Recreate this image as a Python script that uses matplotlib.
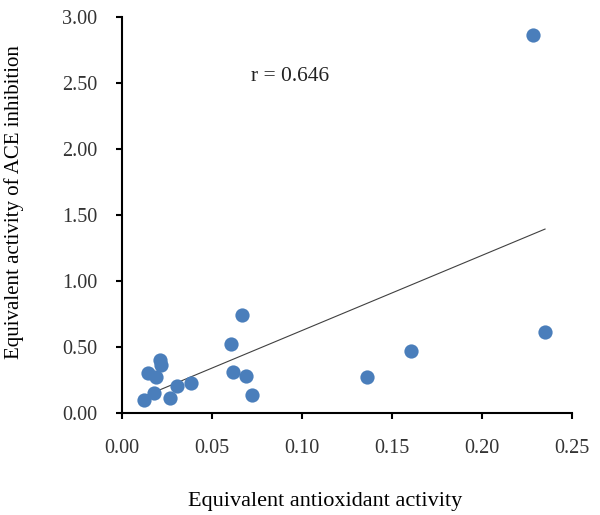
import matplotlib
matplotlib.use("Agg")
import matplotlib.pyplot as plt
import numpy as np

x_vals = [0.0126, 0.0148, 0.0180, 0.0194, 0.0215, 0.0222, 0.0272, 0.0306, 0.0385,
          0.0609, 0.0617, 0.0667, 0.0690, 0.0724, 0.1364, 0.1607, 0.2285, 0.2353]
y_vals = [0.093, 0.303, 0.146, 0.270, 0.400, 0.363, 0.108, 0.204, 0.227,
          0.519, 0.308, 0.736, 0.275, 0.135, 0.268, 0.470, 2.860, 0.614]
x_ticks = [0.00, 0.05, 0.10, 0.15, 0.20, 0.25]
y_ticks = [0.00, 0.50, 1.00, 1.50, 2.00, 2.50, 3.00]
r_label = "r = 0.646"

plt.rcParams['font.family'] = ['Liberation Serif', 'DejaVu Serif']

fig = plt.figure(figsize=(6.0, 5.15), dpi=100)
ax = fig.add_axes([0.2025, 0.199, 0.75, 0.768])

x = np.array(x_vals)
y = np.array(y_vals)
ax.scatter(x, y, s=105, color='#4A7EBB', zorder=3, linewidths=0)
m, b = np.polyfit(x, y, 1)
xs = np.array([x.min(), x.max()])
ax.plot(xs, m * xs + b, color='#404040', lw=0.8, zorder=2)

ax.set_xlim(0, 0.25)
ax.set_ylim(0, 3.0)
ax.set_xticks(x_ticks)
ax.set_yticks(y_ticks)
ax.set_xticklabels([f"{t:.2f}" for t in x_ticks])
ax.set_yticklabels([f"{t:.2f}" for t in y_ticks])
for s in ['top', 'right']:
    ax.spines[s].set_visible(False)
for s in ['left', 'bottom']:
    ax.spines[s].set_linewidth(1.5)
ax.tick_params(direction='out', length=4.3, width=1.5, labelsize=14.5, labelcolor='#333333')
ax.tick_params(axis='x', pad=14.5)
ax.tick_params(axis='y', pad=13.0)

ax.text(0.0936, 2.551, r_label, fontsize=15.5, ha='center', va='center', color='#222222')
fig.text(0.542, 0.0175, "Equivalent antioxidant activity", fontsize=16, ha='center', va='baseline')
fig.text(0.0233, 0.608, "Equivalent activity of ACE inhibition", fontsize=15, ha='center', va='center', rotation=90)

fig.savefig("out.png", dpi=100)
